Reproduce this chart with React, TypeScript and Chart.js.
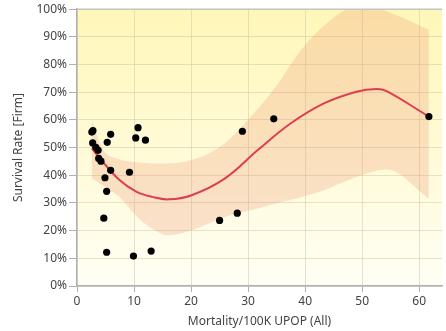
import React, { useEffect, useRef } from "react";
import { Chart, registerables } from "chart.js";

Chart.register(...registerables);

// Scatter observations
const pointX = [2.6, 2.8, 5.9, 10.7, 10.3, 12.0, 5.3, 2.75, 3.3, 3.7, 3.8, 4.2, 5.9, 9.2, 4.9, 5.2, 4.7, 5.2, 9.9, 13.0, 25.0, 28.1, 29.0, 34.5, 61.7];
const pointY = [55.6, 56.1, 54.8, 57.2, 53.5, 52.7, 51.9, 51.7, 50.1, 49.0, 46.1, 45.1, 41.8, 41.1, 39.1, 34.2, 24.5, 12.2, 10.8, 12.6, 23.7, 26.3, 55.9, 60.4, 61.2];

// Smoothed trend
const trendX = [2.6, 4.5, 7.4, 10.3, 13.2, 16.1, 20.1, 25.9, 31.7, 37.5, 43.3, 49.0, 52.5, 54.3, 61.7];
const trendY = [49.7, 44.9, 38.4, 34.2, 32.2, 31.3, 32.8, 38.8, 49.1, 58.8, 66.0, 70.2, 71.2, 70.4, 61.2];

// Confidence band
const bandX = [2.6, 4.5, 7.4, 10.3, 13.2, 16.1, 20.1, 25.9, 31.7, 35.2, 39.2, 43.3, 48.5, 52.5, 54.3, 61.7];
const upperY = [60.0, 49.5, 45.8, 44.7, 44.3, 44.3, 45.5, 51.5, 64.0, 73.0, 85.0, 94.0, 100.4, 100.3, 99.3, 92.6];
const lowerY = [38.8, 36.4, 32.2, 25.5, 20.7, 18.3, 20.1, 24.9, 28.0, 30.0, 32.0, 34.6, 39.0, 41.6, 42.1, 31.6];

const xTitle = "Mortality/100K UPOP (All)";
const yTitle = "Survival Rate [Firm]";

const FONT = "'Segoe UI', 'Noto Sans', sans-serif";
const TEXT = "#444";

const toPts = (xs: number[], ys: number[]) => xs.map((x, i) => ({ x, y: ys[i] }));

const bgPlugin = {
  id: "bgGradient",
  beforeDraw(chart: any) {
    const { ctx, chartArea } = chart;
    if (!chartArea) return;
    const g = ctx.createLinearGradient(0, chartArea.top, 0, chartArea.bottom);
    g.addColorStop(0, "rgb(255,247,184)");
    g.addColorStop(1, "rgb(255,254,244)");
    ctx.save();
    ctx.fillStyle = g;
    ctx.fillRect(chartArea.left, chartArea.top, chartArea.right - chartArea.left, chartArea.bottom - chartArea.top);
    ctx.restore();
  },
  afterDraw(chart: any) {
    const { ctx, chartArea } = chart;
    ctx.save();
    ctx.strokeStyle = "#c4c4c4";
    ctx.lineWidth = 1.5;
    ctx.beginPath();
    ctx.moveTo(chartArea.left, chartArea.top);
    ctx.lineTo(chartArea.right, chartArea.top);
    ctx.stroke();
    ctx.restore();
  },
};

export default function App() {
  const ref = useRef<HTMLCanvasElement | null>(null);
  useEffect(() => {
    document.body.style.margin = "0";
    if (!ref.current) return;
    const chart = new Chart(ref.current, {
      type: "line",
      data: {
        datasets: [
          {
            data: toPts(bandX, upperY),
            borderWidth: 0,
            pointRadius: 0,
            fill: false,
            cubicInterpolationMode: "monotone",
            order: 4,
          } as any,
          {
            data: toPts(bandX, lowerY),
            borderWidth: 0,
            pointRadius: 0,
            fill: 0,
            backgroundColor: "rgba(236,140,105,0.24)",
            cubicInterpolationMode: "monotone",
            order: 3,
          },
          {
            data: toPts(trendX, trendY),
            borderColor: "rgb(220,62,82)",
            borderWidth: 2,
            pointRadius: 0,
            fill: false,
            tension: 0.4,
            order: 1,
          },
          {
            data: toPts(pointX, pointY),
            showLine: false,
            pointRadius: 3.6,
            pointBackgroundColor: "#000",
            pointBorderWidth: 0,
            order: 0,
          },
        ],
      },
      options: {
        animation: false,
        responsive: false,
        layout: { padding: { top: 9, right: 0, left: 0, bottom: 0 } },
        plugins: { legend: { display: false }, tooltip: { enabled: false } },
        scales: {
          x: {
            type: "linear",
            min: 0,
            max: 64,
            afterFit(scale: any) {
              scale.height = 45;
            },
            ticks: {
              stepSize: 10,
              includeBounds: false,
              color: TEXT,
              font: { family: FONT, size: 12 },
              padding: 2,
              maxRotation: 0,
            },
            grid: {
              color: "rgba(205,198,165,0.5)",
              tickColor: "#b0b0b0",
              tickLength: 6,
            },
            border: { display: true, color: "#b0b0b0", width: 1.5 },
            title: {
              display: true,
              text: xTitle,
              color: TEXT,
              font: { family: FONT, size: 12 },
              padding: { top: 0, bottom: 2 },
            },
          },
          y: {
            type: "linear",
            min: 0,
            max: 100,
            afterFit(scale: any) {
              scale.width = 77;
            },
            ticks: {
              stepSize: 10,
              color: TEXT,
              font: { family: FONT, size: 12 },
              padding: 2,
              callback: (v: any) => v + "%",
            },
            grid: {
              color: "rgba(205,198,165,0.5)",
              tickColor: "#b0b0b0",
              tickLength: 8,
            },
            border: { display: true, color: "#b0b0b0", width: 1.5 },
            title: {
              display: true,
              text: yTitle,
              color: TEXT,
              font: { family: FONT, size: 12 },
              padding: { top: 11, bottom: 0 },
            },
          },
        },
      },
      plugins: [bgPlugin],
    });
    return () => chart.destroy();
  }, []);
  return <canvas ref={ref} width={446} height={331} style={{ display: "block" }} />;
}
